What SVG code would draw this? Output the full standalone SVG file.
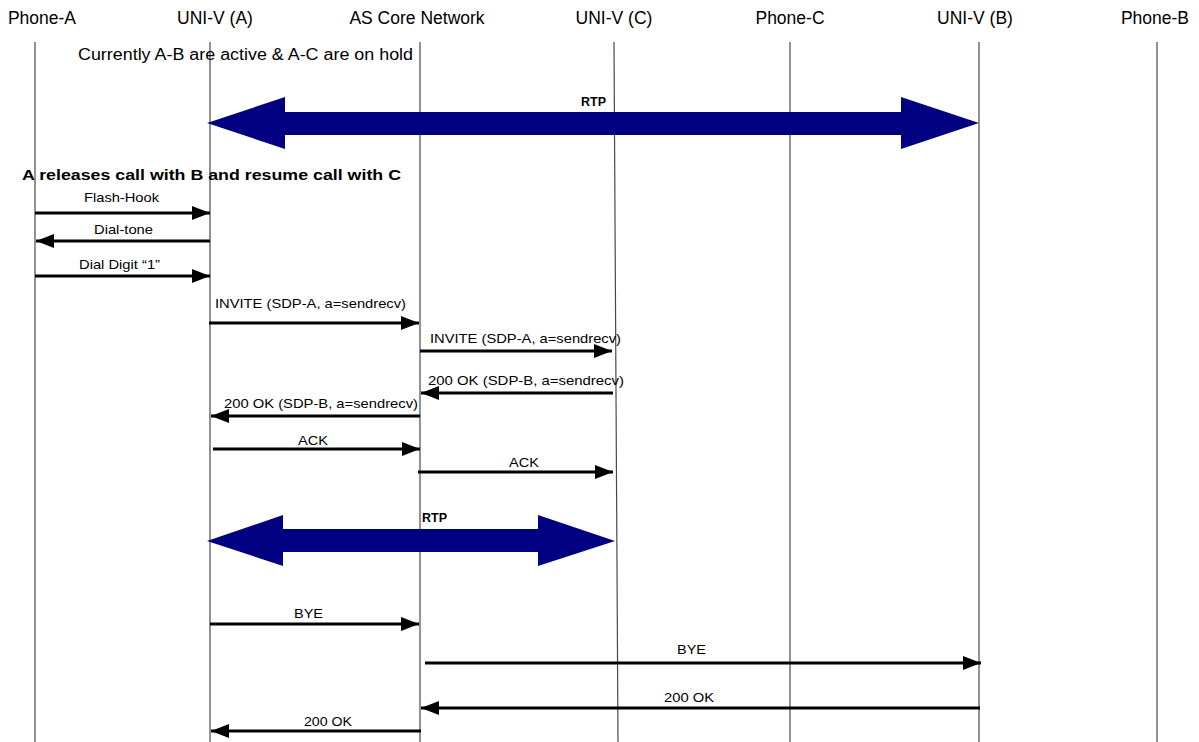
<svg xmlns="http://www.w3.org/2000/svg" width="1199" height="742" viewBox="0 0 1199 742">
  <style>
    text { font-family: "Liberation Sans", Arial, sans-serif; fill: #000; }
    .hdr { font-size: 17.5px; text-anchor: middle; }
    .note { font-size: 16px; }
    .title { font-size: 15px; font-weight: bold; }
    .lbl { font-size: 13.5px; }
    .mid { text-anchor: middle; }
    .rtp { font-size: 12.5px; font-weight: bold; }
    .life { stroke: #4a4a4a; stroke-width: 1.2; fill: none; }
    .msg { stroke: #000; stroke-width: 3; fill: none; marker-end: url(#head); }
    .media { fill: #000080; }
  </style>
  <defs>
    <marker id="head" viewBox="0 0 18 14" refX="18" refY="7" markerWidth="18" markerHeight="14" markerUnits="userSpaceOnUse" orient="auto">
      <path d="M0,0 L18,7 L0,14 z" fill="#000"/>
    </marker>
  </defs>
  <rect width="1199" height="742" fill="#fff"/>

  <!-- participants with lifelines -->
  <g id="phone-a"><text class="hdr" x="42" y="24">Phone-A</text><line class="life" x1="35" y1="42" x2="35" y2="742"/></g>
  <g id="univ-a"><text class="hdr" x="215" y="24">UNI-V (A)</text><line class="life" x1="210" y1="42" x2="210" y2="742"/></g>
  <g id="as-core"><text class="hdr" x="417" y="24">AS Core Network</text><line class="life" x1="420" y1="42" x2="420" y2="742"/></g>
  <g id="univ-c"><text class="hdr" x="614" y="24">UNI-V (C)</text><line class="life" x1="614" y1="42" x2="618" y2="742"/></g>
  <g id="phone-c"><text class="hdr" x="790" y="24">Phone-C</text><line class="life" x1="790" y1="42" x2="790" y2="742"/></g>
  <g id="univ-b"><text class="hdr" x="975" y="24">UNI-V (B)</text><line class="life" x1="979" y1="42" x2="979" y2="742"/></g>
  <g id="phone-b"><text class="hdr" x="1155" y="24">Phone-B</text><line class="life" x1="1157" y1="42" x2="1157" y2="742"/></g>

  <!-- notes -->
  <g id="notes">
    <text class="note" x="78" y="60" textLength="335" lengthAdjust="spacingAndGlyphs">Currently A-B are active &amp; A-C are on hold</text>
    <text class="title" x="22" y="180" textLength="379" lengthAdjust="spacingAndGlyphs">A releases call with B and resume call with C</text>
  </g>

  <!-- media streams -->
  <g id="rtp-ab">
    <polygon class="media" points="207,123 285,97 285,112 901,112 901,97 979,123 901,149 901,135 285,135 285,149"/>
    <text class="rtp" x="581" y="106">RTP</text>
  </g>
  <g id="rtp-ac">
    <polygon class="media" points="207,541 283,515 283,529 538,529 538,515 615,541 538,566 538,552 283,552 283,566"/>
    <text class="rtp" x="422" y="522">RTP</text>
  </g>

  <!-- signalling messages -->
  <g id="connectors">
    <line class="msg" x1="35" y1="213" x2="210" y2="213"/>
    <line class="msg" x1="210" y1="241" x2="36" y2="241"/>
    <line class="msg" x1="35" y1="276" x2="210" y2="276"/>
    <line class="msg" x1="209" y1="323" x2="419" y2="323"/>
    <line class="msg" x1="420" y1="351" x2="612" y2="351"/>
    <line class="msg" x1="613" y1="393" x2="421" y2="393"/>
    <line class="msg" x1="420" y1="416" x2="211" y2="416"/>
    <line class="msg" x1="213" y1="449" x2="420" y2="449"/>
    <line class="msg" x1="418" y1="472" x2="613" y2="472"/>
    <line class="msg" x1="210" y1="624" x2="419" y2="624"/>
    <line class="msg" x1="425" y1="663" x2="981" y2="663"/>
    <line class="msg" x1="980" y1="708" x2="421" y2="708"/>
    <line class="msg" x1="421" y1="731" x2="211" y2="731"/>
  </g>

  <!-- message labels -->
  <g id="labels">
    <text class="lbl" x="84" y="202" textLength="75" lengthAdjust="spacingAndGlyphs">Flash-Hook</text>
    <text class="lbl" x="94" y="234" textLength="59" lengthAdjust="spacingAndGlyphs">Dial-tone</text>
    <text class="lbl" x="79" y="269" textLength="81" lengthAdjust="spacingAndGlyphs">Dial Digit “1”</text>
    <text class="lbl" x="215" y="308" textLength="191" lengthAdjust="spacingAndGlyphs">INVITE (SDP-A, a=sendrecv)</text>
    <text class="lbl" x="430" y="343" textLength="191" lengthAdjust="spacingAndGlyphs">INVITE (SDP-A, a=sendrecv)</text>
    <text class="lbl" x="428" y="385" textLength="196" lengthAdjust="spacingAndGlyphs">200 OK (SDP-B, a=sendrecv)</text>
    <text class="lbl" x="224" y="408" textLength="194" lengthAdjust="spacingAndGlyphs">200 OK (SDP-B, a=sendrecv)</text>
    <text class="lbl" x="298" y="445" textLength="30" lengthAdjust="spacingAndGlyphs">ACK</text>
    <text class="lbl" x="509" y="467" textLength="30" lengthAdjust="spacingAndGlyphs">ACK</text>
    <text class="lbl" x="294" y="618" textLength="29" lengthAdjust="spacingAndGlyphs">BYE</text>
    <text class="lbl" x="677" y="654" textLength="29" lengthAdjust="spacingAndGlyphs">BYE</text>
    <text class="lbl" x="664" y="702" textLength="50" lengthAdjust="spacingAndGlyphs">200 OK</text>
    <text class="lbl" x="304" y="726" textLength="48" lengthAdjust="spacingAndGlyphs">200 OK</text>
  </g>
</svg>
